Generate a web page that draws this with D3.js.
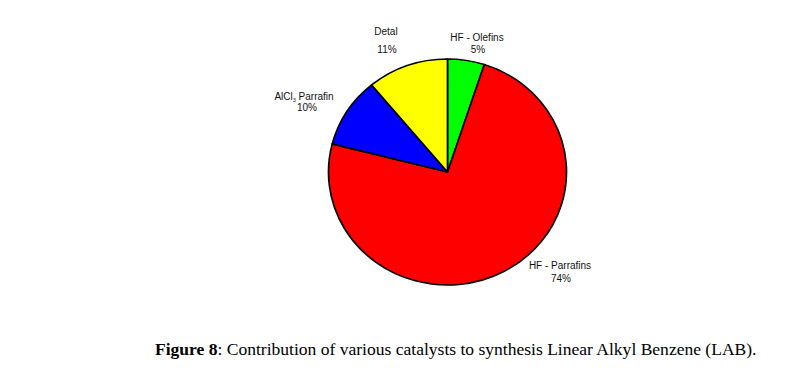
<!DOCTYPE html>
<html><head><meta charset="utf-8">
<script src="https://cdn.jsdelivr.net/npm/d3@7"></script>
<style>body{margin:0;background:#fff}svg{display:block}</style>
</head><body>
<svg id="c" width="797" height="374"></svg>
<script>
const categories = ["HF - Olefins", "HF - Parrafins", "AlCl3 Parrafin", "Detal"];
const values = [5, 74, 10, 11];
const colors = ["#00ff00", "#ff0000", "#0000ff", "#ffff00"];
const pctLabels = ["5%", "74%", "10%", "11%"];
const labelPos = [[477, 41], [560, 269], [304, 99.5], [386, 35]];
const labelGap = [12, 13, 11.5, 17.5];

const svg = d3.select("#c");
const cx = 447.5, cy = 172, rx = 119, ry = 113;
const pie = d3.pie().sort(null).value(d => d)(values);
const arc = d3.arc().innerRadius(0).outerRadius(ry);
const g = svg.append("g").attr("transform", `translate(${cx},${cy}) scale(${rx/ry},1)`);
g.selectAll("path").data(pie).join("path")
  .attr("d", arc)
  .attr("fill", (d, i) => colors[i])
  .attr("stroke", "#000")
  .attr("stroke-width", 1.6)
  .attr("stroke-linejoin", "round");

const lab = svg.append("g").attr("font-family", "Liberation Sans, Arial, sans-serif")
  .attr("font-size", 10).attr("fill", "#111").attr("text-anchor", "middle");
categories.forEach((c, i) => {
  const t = lab.append("text").attr("x", labelPos[i][0]).attr("y", labelPos[i][1]);
  if (c.startsWith("AlCl3")) {
    t.append("tspan").text("AlCl");
    t.append("tspan").attr("font-size", 5.5).attr("dy", 2).text("3");
    t.append("tspan").attr("dy", -2).text(" Parrafin");
  } else t.text(c);
  lab.append("text").attr("x", labelPos[i][0] + (i === 2 ? 3 : 1)).attr("y", labelPos[i][1] + labelGap[i]).text(pctLabels[i]);
});

const cap = svg.append("text").attr("x", 155).attr("y", 355)
  .attr("font-family", "Liberation Serif, Times New Roman, serif").attr("font-size", 17.55).attr("fill", "#000");
cap.append("tspan").attr("font-weight", "bold").text("Figure 8");
cap.append("tspan").text(": Contribution of various catalysts to synthesis Linear Alkyl Benzene (LAB).");
</script>
</body></html>
